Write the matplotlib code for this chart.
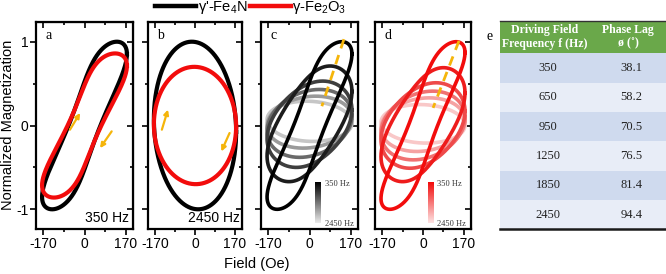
import numpy as np
import matplotlib
matplotlib.use("Agg")
import matplotlib.pyplot as plt
from matplotlib.lines import Line2D
from matplotlib.colors import LinearSegmentedColormap
from matplotlib.patches import Rectangle

plt.rcParams['font.family'] = ['Liberation Sans', 'DejaVu Sans']
plt.rcParams['mathtext.default'] = 'regular'
plt.rcParams['axes.unicode_minus'] = False

# ---------------- data ----------------
freqs = [350, 650, 950, 1250, 1850, 2450]
phase_lag = [38.1, 58.2, 70.5, 76.5, 81.4, 94.4]          # degrees (table)
fe4n_amp = [1.0, 0.69, 0.515, 0.405, 0.31, 0.24]
fe4n_off = [0.0, 0.02, 0.015, 0.025, 0.04, 0.05]
fe2o3_amp = [1.0, 0.68, 0.51, 0.41, 0.32, 0.23]
fe2o3_off = [0.0, 0.01, 0.0, 0.0, 0.01, 0.02]
shape_phase = [31.5, 56.0, 70.5, 76.5, 81.4, 94.4]
shape_dist = [0.107, 0.05, 0.02, 0.0, 0.0, 0.0]
field_amp = 175.0

a_fe4n = dict(amp=1.0, phase=31.5, dist=0.107)
a_fe2o3 = dict(amp=0.86, phase=34.0, dist=0.117)
b_fe4n = dict(amp=1.0, phase=94.4, dist=0.0)
b_fe2o3 = dict(amp=0.70, phase=91.0, dist=0.0)

gray_cols = ['#000000', '#1c1c1c', '#3e3e3e', '#6a6a6a', '#9a9a9a', '#c6c6c6']
red_cols = ['#f20c0c', '#ee1c1c', '#ee4a4a', '#f07272', '#f5a2a2', '#f9c8c8']

table_col1 = ['350', '650', '950', '1250', '1850', '2450']
table_col2 = ['38.1', '58.2', '70.5', '76.5', '81.4', '94.4']

arrows_a = [((-60, -0.05), (-18, 0.15)), ((112, -0.07), (64, -0.27))]
arrows_b = [((-141, -0.05), (-115, 0.19)), ((147, -0.09), (112, -0.31))]
dash_c = [(142, 51), (1.03, 0.23)]
dash_d = [(150, 42), (1.01, 0.21)]

ORANGE = '#f5b50a'


def loop(amp, phase, dist=0.0, off=0.0, A=field_amp):
    t = np.linspace(0, 2 * np.pi, 600)
    H = A * (np.cos(t) + dist * np.cos(3 * t)) / (1 + dist)
    M = amp * np.cos(t - np.deg2rad(phase)) + off
    return H, M


W, Hh = 666, 274
fig = plt.figure(figsize=(W / 100, Hh / 100), dpi=100)

XL, YL = (-200, 200), (-1.235, 1.235)
top_px, bot_px = 22, 229
panels_px = [(36, 97), (148, 94), (261, 97), (375, 96)]
axes = []
for k, (x0, w) in enumerate(panels_px):
    ax = fig.add_axes([x0 / W, 1 - bot_px / Hh, w / W, (bot_px - top_px) / Hh])
    ax.set_xlim(*XL)
    ax.set_ylim(*YL)
    ax.set_xticks([-170, 0, 170])
    ax.set_xticklabels(['-170', '0', '170'])
    ax.set_xticks([-85, 85], minor=True)
    ax.set_yticks([-1, 0, 1])
    ax.set_yticks([-0.5, 0.5], minor=True)
    ax.tick_params(which='both', labelsize=10, width=1.2, pad=1.5,
                   direction='out', top=False, right=False,
                   labelleft=(k == 0))
    ax.tick_params(which='major', length=4)
    ax.tick_params(which='minor', length=2.5)
    for s in ax.spines.values():
        s.set_linewidth(1.6)
    sx = ax.secondary_xaxis('top')
    sx.set_xticks([-170, 0, 170])
    sx.set_xticks([-85, 85], minor=True)
    sx.tick_params(which='both', direction='in', labeltop=False, width=1.2)
    sx.tick_params(which='major', length=4)
    sx.tick_params(which='minor', length=2.5)
    sy = ax.secondary_yaxis('right')
    sy.set_yticks([-1, 0, 1])
    sy.set_yticks([-0.5, 0.5], minor=True)
    sy.tick_params(which='both', direction='in', labelright=False, width=1.2)
    sy.tick_params(which='major', length=4)
    sy.tick_params(which='minor', length=2.5)
    axes.append(ax)

axa, axb, axc, axd = axes

for p, c in [(a_fe4n, '#000000'), (a_fe2o3, '#f20c0c')]:
    H, M = loop(p['amp'], p['phase'], p['dist'])
    axa.plot(H, M, color=c, lw=3.0)
for p, c in [(b_fe4n, '#000000'), (b_fe2o3, '#f20c0c')]:
    H, M = loop(p['amp'], p['phase'], p['dist'])
    axb.plot(H, M, color=c, lw=3.0)

for i in reversed(range(len(freqs))):
    H, M = loop(fe4n_amp[i], shape_phase[i], shape_dist[i], fe4n_off[i])
    axc.plot(H, M, color=gray_cols[i], lw=2.6)
    H, M = loop(fe2o3_amp[i], shape_phase[i] - 2 * (i == 0), shape_dist[i],
                fe2o3_off[i])
    axd.plot(H, M, color=red_cols[i], lw=2.6)

for ax, arrs in [(axa, arrows_a), (axb, arrows_b)]:
    for (s, e) in arrs:
        ax.annotate('', xy=e, xytext=s, xycoords='data', textcoords='data',
                    arrowprops=dict(arrowstyle='-|>', color=ORANGE, lw=1.6,
                                    mutation_scale=7, shrinkA=0, shrinkB=0))
for ax, d in [(axc, dash_c), (axd, dash_d)]:
    ax.plot(d[0], d[1], color=ORANGE, lw=2.0, dashes=(3.5, 2.5))

for ax, l in zip(axes, 'abcd'):
    ax.text(0.1, 0.965, l, transform=ax.transAxes, fontsize=10,
            family='Liberation Serif', ha='left', va='top')
axa.text(0.96, 0.02, '350 Hz', transform=axa.transAxes, fontsize=10,
         ha='right', va='bottom')
axb.text(0.98, 0.02, '2450 Hz', transform=axb.transAxes, fontsize=10,
         ha='right', va='bottom')

# gradient bars drawn inside the panels
grad = np.linspace(0, 1, 100).reshape(-1, 1)
cm_gray = LinearSegmentedColormap.from_list('g', ['#000000', '#eaeaea'])
cm_red = LinearSegmentedColormap.from_list('r', ['#f20c0c', '#fde2e2'])
for ax, cm, bx, lx in [(axc, cm_gray, 0.557, 0.66), (axd, cm_red, 0.549, 0.646)]:
    x0d = XL[0] + bx * (XL[1] - XL[0])
    x1d = x0d + 0.053 * (XL[1] - XL[0])
    y0d = YL[0] + 0.029 * (YL[1] - YL[0])
    y1d = y0d + 0.198 * (YL[1] - YL[0])
    ax.imshow(grad, aspect='auto', cmap=cm, extent=(x0d, x1d, y0d, y1d),
              origin='upper', zorder=3)
    ax.text(lx, 0.235, '350 Hz', transform=ax.transAxes, fontsize=6,
            family='Liberation Serif', ha='left', va='top', color='#333333')
    ax.text(lx, 0.005, '2450 Hz', transform=ax.transAxes, fontsize=6,
            family='Liberation Serif', ha='left', va='bottom', color='#333333')

for ax in axes:
    ax.set_xlim(*XL)
    ax.set_ylim(*YL)

fig.text(8 / W, 1 - 125 / Hh, 'Normalized Magnetization', rotation=90,
         fontsize=10.5, ha='center', va='center')
fig.text(257 / W, 1 - 264 / Hh, 'Field (Oe)', fontsize=10.5,
         ha='center', va='center')

handles = [Line2D([], [], color='#000000', lw=3.2),
           Line2D([], [], color='#f20c0c', lw=3.2)]
fig.legend(handles, ["γ'-Fe$_4$N", "γ-Fe$_2$O$_3$"], loc='center',
           bbox_to_anchor=(251 / W, 1 - 8 / Hh), ncol=2, frameon=False,
           fontsize=10.5, handlelength=2.8, handletextpad=0.1,
           columnspacing=0.2, borderpad=0, borderaxespad=0)

fig.text(490 / W, 1 - 36 / Hh, 'e', fontsize=10, family='Liberation Serif',
         ha='center', va='center')


def fx(px):
    return px / W


def fy(py):
    return 1 - py / Hh


tx0, ttop, tbot = 500, 20.7, 229.3
hdr_h = 32.6
row_h = (tbot - ttop - hdr_h) / 6
fig.patches.append(Rectangle((fx(tx0), fy(ttop + hdr_h)), fx(W) - fx(tx0),
                             hdr_h / Hh, transform=fig.transFigure,
                             color='#6aa84a', lw=0, figure=fig))
for i in range(6):
    yt = ttop + hdr_h + i * row_h
    col = '#cfdaee' if i % 2 == 0 else '#e8edf7'
    fig.patches.append(Rectangle((fx(tx0), fy(yt + row_h)), fx(W) - fx(tx0),
                                 row_h / Hh, transform=fig.transFigure,
                                 color=col, lw=0, figure=fig))
    fig.text(fx(tx0 + 48), fy(yt + row_h / 2), table_col1[i], fontsize=9,
             family='Liberation Serif', ha='center', va='center', color='#222222')
    fig.text(fx(tx0 + 131.5), fy(yt + row_h / 2), table_col2[i], fontsize=9,
             family='Liberation Serif', ha='center', va='center', color='#222222')
fig.add_artist(Line2D([fx(tx0), 1], [fy(ttop + 0.3), fy(ttop + 0.3)],
                      color='#333333', lw=1.0, transform=fig.transFigure))
fig.add_artist(Line2D([fx(tx0), 1], [fy(tbot - 0.6), fy(tbot - 0.6)],
                      color='#1a1a1a', lw=1.8, transform=fig.transFigure))
fig.text(fx(tx0 + 45), fy(ttop + hdr_h / 2), 'Driving Field\nFrequency f (Hz)',
         color='white', fontsize=8.5, family='Liberation Serif', weight='bold',
         ha='center', va='center', linespacing=1.15)
fig.text(fx(tx0 + 128), fy(ttop + hdr_h / 2), 'Phase Lag\nø (˚)',
         color='white', fontsize=8.5, family='Liberation Serif', weight='bold',
         ha='center', va='center', linespacing=1.15)

fig.savefig('out.png', dpi=100)
